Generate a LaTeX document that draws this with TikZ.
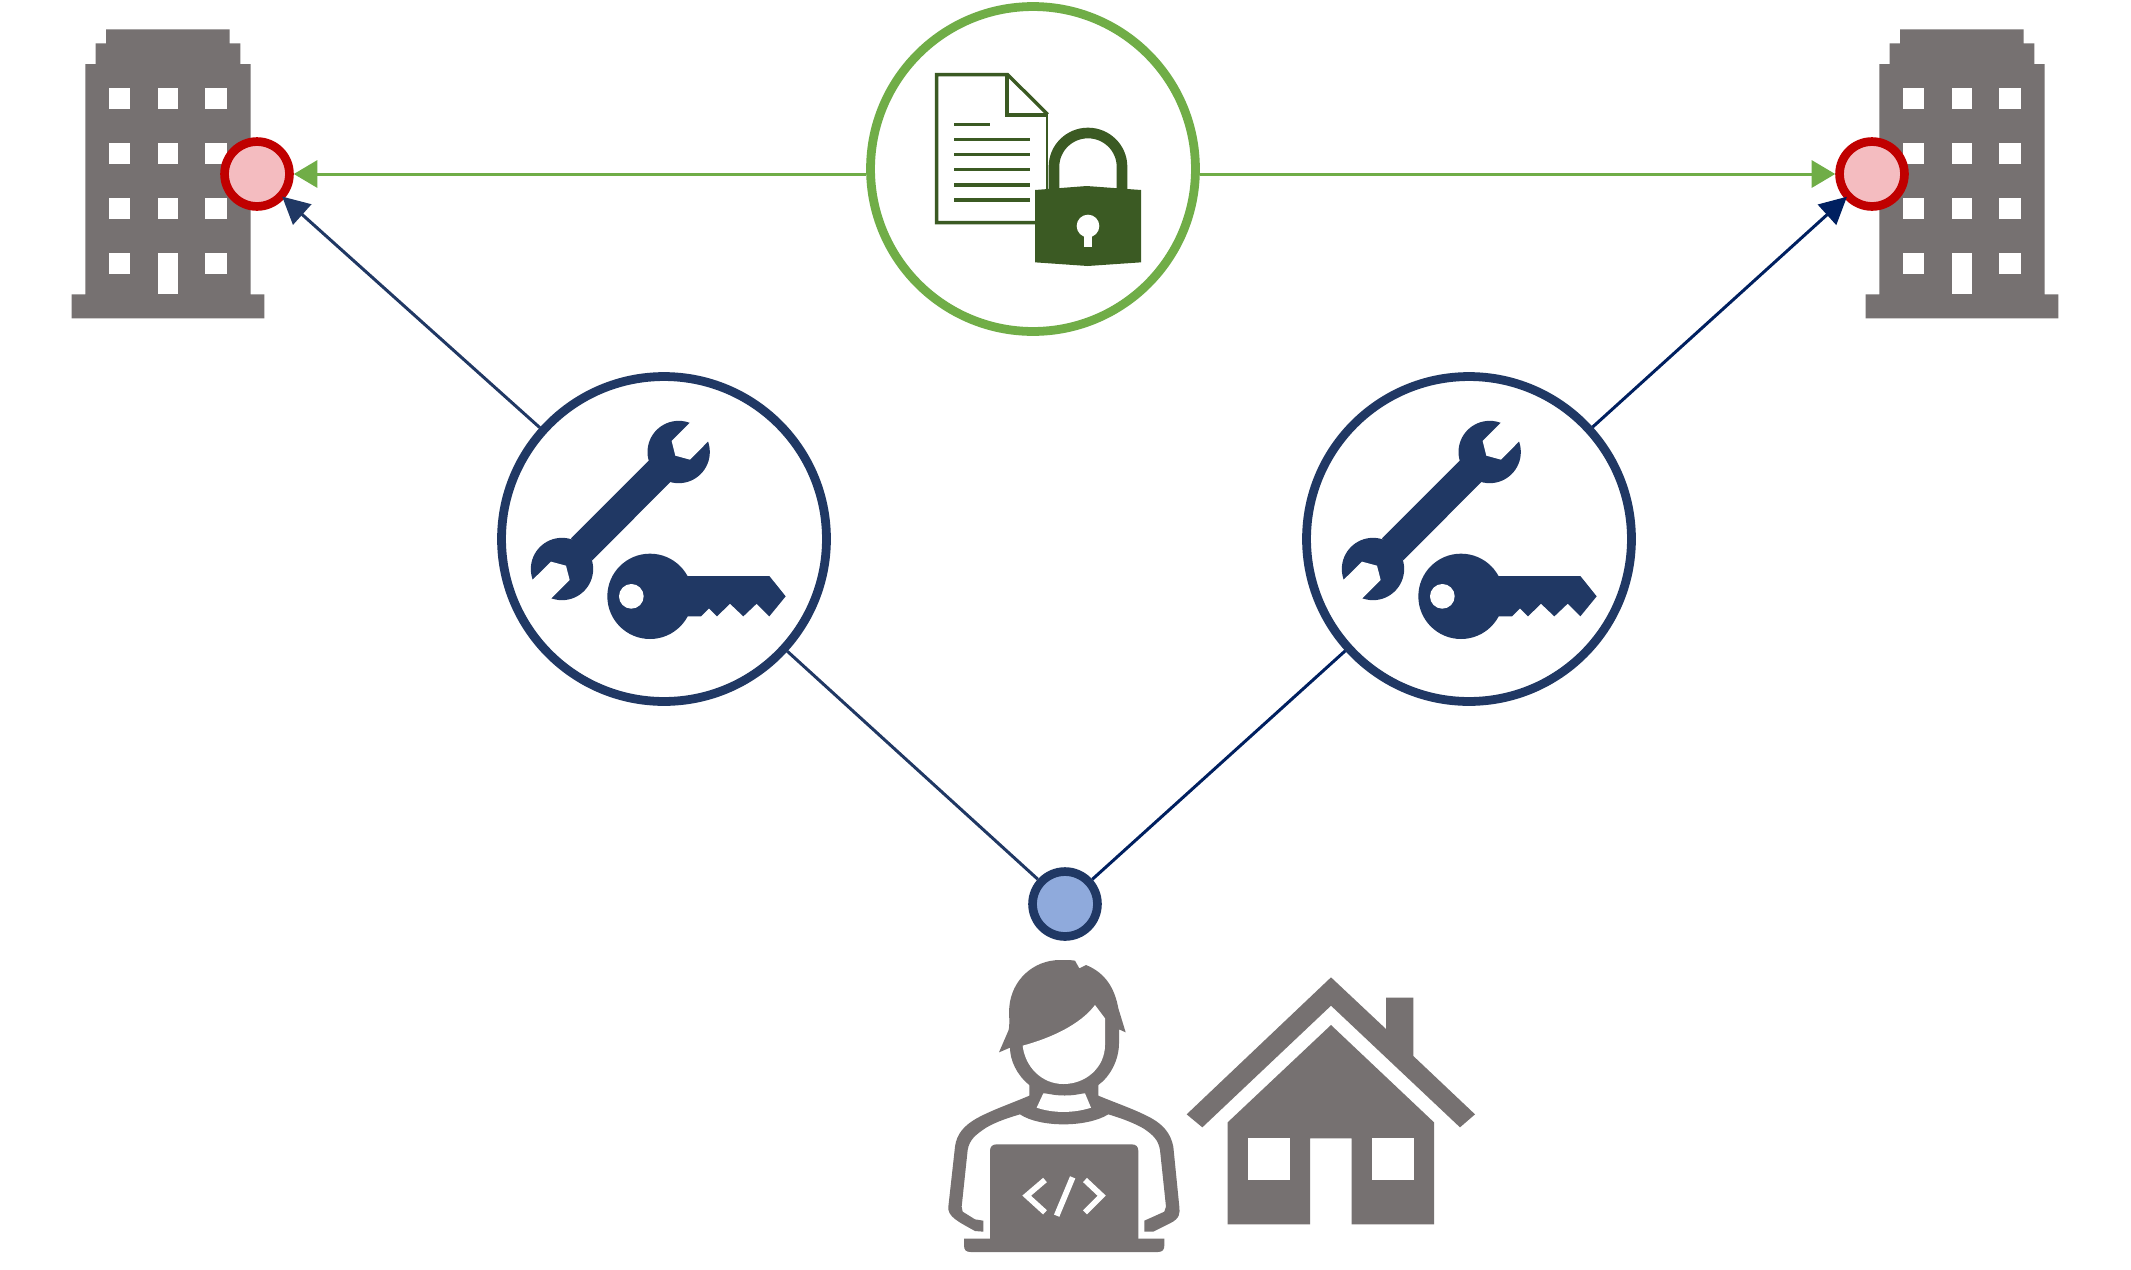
\documentclass[tikz,border=0pt]{standalone}
\usetikzlibrary{arrows.meta}
\definecolor{slate}{HTML}{767171}
\definecolor{navy}{HTML}{203864}
\definecolor{deepnavy}{HTML}{002060}
\definecolor{leaf}{HTML}{70AD47}
\definecolor{forest}{HTML}{3B5A23}
\definecolor{alarm}{HTML}{C00000}
\definecolor{blush}{HTML}{F4BCC0}
\definecolor{sky}{HTML}{8FAADC}
\tikzset{
  ring/.style={circle,draw=#1,line width=.174cm,minimum size=1.298cm,inner sep=0pt},
  bigring/.style={circle,draw=#1,fill=white,line width=.176cm,minimum size=6.5cm,inner sep=0pt},
  navyarrow/.style={draw=#1,line width=.06cm,shorten >=-.06cm,-{Triangle[length=.54cm,width=.54cm]}},
  greenarrow/.style={draw=leaf,line width=.06cm,-{Triangle[length=.47cm,width=.54cm]}},
  wire/.style={draw=#1,line width=.06cm},
  docline/.style={draw=forest,line width=.073cm},
  codemark/.style={draw=white,line width=.115cm},
  building/.pic={
    \fill[slate] (106,29.3) -- (229.7,29.3) -- (229.7,43.3) -- (240.3,43.3) -- (240.3,64) -- (250.7,64) -- (250.7,294.3)
      -- (264.3,294.3) -- (264.3,318.3) -- (71.7,318.3) -- (71.7,294.3) -- (85.3,294.3) -- (85.3,64) -- (95.7,64) -- (95.7,43.3) -- (106,43.3) -- cycle;
    \foreach \wy in {88,143,198,253}
      \foreach \wx/\ww in {109.3/21,157.7/20.6,205.3/21.4}
        \fill[white] (\wx,\wy) rectangle ++(\ww,20.7);
    \fill[white] (157.7,253) rectangle (178.3,294.3);
  },
  tools/.pic={
    \fill[navy] (566,261) circle[radius=93.5];
    \fill[white] (620,153) -- (545,228) -- (556,272) -- (600,284) -- (675,208) -- (640,150) -- cycle;
    \fill[navy] (216,612) circle[radius=93.5];
    \fill[white] (107,665) -- (183,590) -- (228,602) -- (239,645) -- (163,721) -- (100,700) -- cycle;
    \fill[navy] (476,287) -- (541,351) -- (307,586) -- (243,520) -- cycle;
    \fill[navy] (480,694) circle[radius=128];
    \fill[navy] (570,633) -- (838,633) -- (887,694) -- (838,754) -- (800,716) -- (760,754) -- (720,716) -- (681,754) -- (657,730) -- (633,754) -- (570,754) -- cycle;
    \fill[white] (424,694) circle[radius=37];
  }
}
\begin{document}
\begin{tikzpicture}[x=.02cm,y=-.02cm]
\path[use as bounding box,fill=white] (0,0) rectangle (2131,1269);

% buildings
\pic at (0,0) {building};
\pic at (1794,0) {building};

% nodes
\node[ring=alarm,fill=blush] (redL) at (257,174) {};
\node[ring=alarm,fill=blush] (redR) at (1872,174) {};
\node[ring=navy,fill=sky] (user) at (1065,904) {};
\node[bigring=leaf] (vault) at (1033,169) {};
\node[bigring=navy] (toolL) at (664,539) {};
\node[bigring=navy] (toolR) at (1469,539) {};

% connectors
\draw[greenarrow] (vault.west |- redL) -- (redL.east);
\draw[greenarrow] (vault.east |- redR) -- (redR.west);
\draw[navyarrow=navy] (toolL) -- (redL);
\draw[navyarrow=deepnavy] (toolR) -- (redR);
\draw[wire=navy] (toolL) -- (user);
\draw[wire=deepnavy] (toolR) -- (user);

% tool icons
\pic[scale=.33333] at (490,365) {tools};
\pic[scale=.33333] at (1301,365) {tools};

% document and lock
\begin{scope}[shift={(860,0)},scale=.33333]
  \draw[draw=forest,line width=.067cm,line join=miter] (530,668) -- (230,668) -- (230,224) -- (443,224) -- (563,343);
  \draw[draw=forest,line width=.067cm] (441,224) -- (441,345) -- (561,345);
  \draw[draw=forest,line width=.04cm] (562,343) -- (562,575);
  \draw[docline] (282,373) -- (390,373);
  \foreach \ly in {418,463,509,555,600}
    \draw[docline] (282,\ly) -- (510,\ly);
  \draw[draw=forest,line width=.213cm] (582,575) -- (582,500) .. controls (582,444) and (628,399) .. (684,399) .. controls (740,399) and (786,444) .. (786,500) -- (786,575);
  \fill[forest] (525,570) -- (680,558) -- (843,570) -- (843,787) -- (683,798) -- (525,787) -- cycle;
  \fill[white] (684,678) circle[radius=34];
  \fill[white] (672,690) rectangle (696,742);
\end{scope}

% developer
\begin{scope}[shift={(930,950)},scale=.33333]
  \fill[slate] (298,400) -- (298,437) .. controls (240,462) and (190,478) .. (140,505) .. controls (105,525) and (80,550) .. (75,590) -- (55,770)
    .. controls (52,800) and (85,815) .. (135,843) -- (160,845) -- (160,812) -- (135,808) -- (98,785) -- (95,770) -- (113,600)
    .. controls (118,570) and (135,555) .. (170,532) .. controls (200,515) and (235,503) .. (270,493) .. controls (330,533) and (470,533) .. (535,493)
    .. controls (575,505) and (610,518) .. (640,535) .. controls (670,555) and (685,570) .. (690,600) -- (708,770) -- (703,785) -- (670,800) -- (643,812) -- (643,845) -- (670,845) -- (720,820)
    .. controls (750,805) and (750,790) .. (748,770) -- (730,590) .. controls (722,550) and (700,525) .. (665,505) .. controls (615,478) and (565,462) .. (505,437) -- (505,400) -- cycle;
  \fill[white] (340,430) -- (465,430) -- (483,473) .. controls (430,490) and (370,490) .. (320,473) -- cycle;
  \fill[slate] (207,307) -- (236,240) .. controls (240,220) and (236,190) .. (238,170) .. controls (245,90) and (310,30) .. (390,30)
    .. controls (410,30) and (425,30) .. (435,32) -- (448,55) -- (468,45) .. controls (530,70) and (555,120) .. (565,175) -- (587,247) -- (567,238) -- (567,280)
    .. controls (567,330) and (540,380) .. (505,405) .. controls (470,447) and (340,447) .. (298,405) .. controls (260,375) and (240,330) .. (240,293) -- cycle;
  \fill[white] (278,287) .. controls (360,265) and (450,225) .. (495,165) -- (525,205) -- (525,285)
    .. controls (525,350) and (470,402) .. (400,402) .. controls (335,402) and (285,350) .. (278,287) -- cycle;
  \fill[slate] (180,870) -- (180,603) .. controls (180,590) and (187,583) .. (200,583) -- (605,583) .. controls (618,583) and (625,590) .. (625,603) -- (625,870) -- cycle;
  \fill[slate] (102,866) -- (102,886) .. controls (102,900) and (108,906) .. (122,906) -- (683,906) .. controls (697,906) and (703,900) .. (703,886) -- (703,866) -- cycle;
  \draw[codemark] (345,690) -- (290,737) -- (345,787);
  \draw[codemark] (428,682) -- (380,797);
  \draw[codemark] (465,690) -- (515,737) -- (465,787);
\end{scope}

% house
\begin{scope}[shift={(1170,960)},scale=.33333]
  \fill[slate] (483,52) -- (50,463) -- (97,502) -- (483,137) -- (870,502) -- (915,463) -- (730,288) -- (730,113) -- (648,113) -- (648,207) -- cycle;
  \fill[slate] (483,195) -- (173,487) -- (173,793) -- (420,793) -- (420,535) -- (545,535) -- (545,793) -- (792,793) -- (792,487) -- cycle;
  \fill[white] (235,535) rectangle (360,660);
  \fill[white] (606,535) rectangle (731,660);
\end{scope}
\end{tikzpicture}
\end{document}
